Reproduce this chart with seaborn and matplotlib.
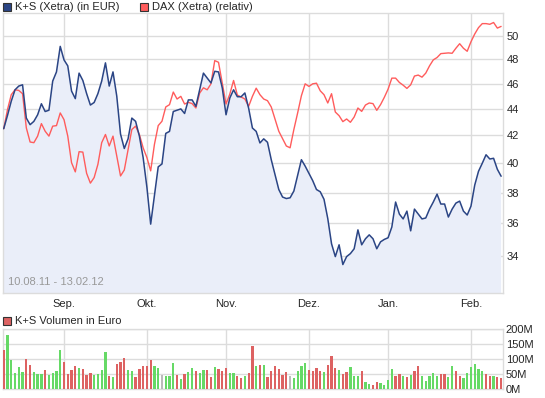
import numpy as np
import pandas as pd
import matplotlib
matplotlib.use("Agg")
import matplotlib.pyplot as plt
import seaborn as sns
from matplotlib.patches import Rectangle
from matplotlib.ticker import FixedLocator, NullLocator, FuncFormatter

# Xetra trading days 10.08.11 - 13.02.12 (closed on 26.12.)
days = pd.bdate_range("2011-08-10", "2012-02-13")
days = days[days != pd.Timestamp("2011-12-26")]

# K+S close in EUR
ks_price = [42.5, 43.5, 44.6, 45.5, 45.8, 45.9, 43.3, 42.8, 43.05, 43.55,
            44.4, 43.8, 43.9, 46.2, 46.95, 49.1, 47.95, 47.45, 45.4, 44.8,
            46.85, 46.25, 45.2, 44.3, 44.5, 45.2, 46.2, 47.7, 45.8, 46.95,
            45.0, 42.1, 41.05, 41.75, 43.3, 43.05, 41.95, 40.4, 38.35, 35.95,
            37.8, 39.75, 39.95, 42.15, 42.3, 43.8, 43.9, 44.0, 43.65, 44.7,
            44.7, 44.2, 45.5, 46.85, 46.45, 46.05, 47.0, 46.95, 45.65, 43.55,
            44.85, 45.5, 44.95, 44.95, 45.25, 44.05, 42.55, 42.3, 41.45, 41.75,
            41.5, 40.25, 39.2, 38.2, 37.7, 37.6, 37.65, 38.1, 39.15, 40.25,
            39.8, 39.3, 38.8, 38.2, 38.05, 37.55, 36.3, 34.73, 33.96, 34.67,
            33.49, 33.96, 34.14, 34.43, 35.59, 34.67, 35.04, 35.28, 35.04, 34.43,
            34.85, 35.0, 35.1, 35.77, 37.37, 36.59, 36.28, 36.78, 35.53, 36.91,
            36.59, 36.28, 36.34, 36.91, 37.37, 37.89, 37.24, 37.24, 36.4, 36.91,
            37.3, 37.43, 36.78, 36.53, 37.1, 38.5, 39.44, 40.0, 40.6, 40.3,
            40.35, 39.58, 39.1]

# DAX relative to K+S start value
dax_rel = [42.5, 43.94, 45.11, 45.5, 45.45, 45.19, 42.56, 41.52, 41.47, 41.95,
           42.88, 42.31, 41.95, 42.69, 42.73, 43.69, 43.18, 41.95, 40.04, 39.4,
           40.82, 40.79, 39.3, 38.63, 39.01, 39.93, 41.47, 42.07, 41.23, 41.95,
           40.51, 39.12, 39.53, 40.98, 42.44, 42.69, 42.07, 41.1, 40.4, 39.47,
           41.35, 42.73, 43.06, 44.15, 44.33, 45.32, 44.77, 44.98, 44.38, 44.51,
           44.41, 44.07, 45.24, 45.66, 45.5, 45.98, 47.89, 47.75, 46.03, 44.38,
           45.16, 46.25, 45.08, 44.93, 44.77, 44.2, 44.98, 45.63, 45.11, 44.77,
           44.64, 44.15, 43.23, 42.31, 41.76, 41.23, 41.1, 42.44, 43.69, 45.03,
           45.98, 45.77, 45.98, 46.03, 45.42, 45.11, 44.46, 45.19, 43.76, 43.48,
           43.03, 43.23, 42.98, 43.38, 44.07, 43.81, 44.3, 44.46, 44.41, 43.89,
           44.33, 44.9, 45.55, 46.44, 46.44, 46.09, 45.87, 45.61, 45.9, 46.61,
           46.69, 46.52, 46.85, 47.45, 47.95, 48.15, 48.48, 48.51, 48.54, 48.51,
           48.94, 49.33, 48.94, 48.68, 49.5, 50.18, 50.74, 51.1, 51.1, 51.04,
           51.2, 50.7, 50.85]

# volume in million EUR
volume_m = [131, 181, 98, 56, 74, 58, 101, 81, 58, 51,
            51, 64, 48, 56, 61, 131, 91, 51, 64, 78,
            71, 68, 48, 54, 48, 51, 64, 124, 44, 41,
            84, 91, 104, 64, 61, 41, 68, 78, 78, 98,
            78, 71, 48, 44, 44, 88, 48, 34, 51, 58,
            71, 61, 54, 64, 64, 41, 74, 68, 61, 71,
            54, 54, 44, 38, 44, 54, 144, 78, 81, 81,
            41, 61, 78, 68, 48, 58, 44, 38, 61, 78,
            88, 64, 61, 71, 61, 58, 81, 111, 71, 64,
            51, 58, 74, 44, 44, 61, 24, 18, 14, 24,
            21, 14, 31, 68, 44, 51, 44, 41, 48, 61,
            78, 44, 28, 44, 54, 44, 51, 51, 41, 78,
            61, 44, 38, 54, 74, 84, 68, 61, 51, 44,
            44, 41, 38]

# g = up day, r = down day, n = unchanged
direction = list("rgggggrrgg" "grggggrrrr" "grrrggggrg" "rrrggrrrrr"
                 "ggngggrgrg" "grggrrgrrr" "ggrrgrrgrg" "rrrrrrnggg"
                 "grrrrgrrrg" "rrgggrggrr" "ggggrrgrgr" "rgggggrrgg"
                 "rrggggggrr" "grr")

month_labels = ["Sep.", "Okt.", "Nov.", "Dez.", "Jan.", "Feb."]
price_ticks = [34, 36, 38, 40, 42, 44, 46, 48, 50]
vol_ticks = [0, 50, 100, 150, 200]

df = pd.DataFrame({"idx": np.arange(len(days)), "ks": ks_price, "dax": dax_rel,
                   "vol": volume_m, "dir": direction})
month_pos = [i for i in range(1, len(days)) if days[i].month != days[i - 1].month]

sns.set_style("white")
plt.rcParams["font.family"] = ["Liberation Sans", "DejaVu Sans"]
plt.rcParams["font.size"] = 8

W, H = 545, 398
fig = plt.figure(figsize=(W / 100, H / 100), dpi=100)
ax = fig.add_axes([3 / W, 1 - 293 / H, 500 / W, 280 / H])
axv = fig.add_axes([3 / W, 1 - 389.3 / H, 500 / W, 60 / H])

grid_c = "#dcdcdc"
blue = "#2b4585"
red = "#ff5c5c"
colors = {"g": "#66d966", "r": "#dd6262", "n": "#bbbbbb"}

# price panel
ax.fill_between(df["idx"], df["ks"], 1, color="#eaeef9", lw=0, zorder=1)
sns.lineplot(data=df, x="idx", y="dax", ax=ax, color=red, lw=1, zorder=3)
sns.lineplot(data=df, x="idx", y="ks", ax=ax, color=blue, lw=1.1, zorder=4)
ax.set_yscale("log")
ax.set_ylim(31.86, 52.06)
ax.set_xlim(-0.19, 132.5)
ax.yaxis.set_major_locator(FixedLocator(price_ticks))
ax.yaxis.set_minor_locator(NullLocator())
ax.yaxis.set_major_formatter(FuncFormatter(lambda v, p: f"{v:g}"))
ax.yaxis.tick_right()
ax.set_xticks(month_pos)
ax.set_xticklabels(month_labels)
ax.tick_params(axis="y", length=0, pad=2.5, labelsize=8)
ax.tick_params(axis="x", length=0, pad=4, labelsize=8)
ax.grid(True, color=grid_c, lw=1, zorder=0)
ax.set_axisbelow(True)
ax.set_xlabel("")
ax.set_ylabel("")
for s in ax.spines.values():
    s.set_color(grid_c)
    s.set_linewidth(1)
ax.text(0.01, 0.022, "10.08.11 - 13.02.12", transform=ax.transAxes,
        color="#999999", fontsize=8, va="bottom", zorder=5)

# volume panel
axv.bar(df["idx"], df["vol"], width=0.6, color=[colors[d] for d in df["dir"]],
        lw=0, antialiased=False, zorder=3)
axv.set_xlim(-0.19, 132.5)
axv.set_ylim(0, 200)
axv.yaxis.set_major_locator(FixedLocator(vol_ticks))
axv.yaxis.set_major_formatter(FuncFormatter(lambda v, p: f"{v:g}M"))
axv.yaxis.tick_right()
axv.set_xticks(month_pos)
axv.set_xticklabels([])
axv.tick_params(axis="y", length=0, pad=2, labelsize=8)
axv.tick_params(axis="x", length=0)
axv.grid(True, color=grid_c, lw=1, zorder=0)
axv.set_axisbelow(True)
for s in axv.spines.values():
    s.set_color(grid_c)
    s.set_linewidth(1)

# legends
def legend_box(x, y, color, label):
    fig.add_artist(Rectangle((x / W, 1 - (y + 8) / H), 8 / W, 8 / H, facecolor=color,
                             edgecolor="#333333", lw=0.8, transform=fig.transFigure))
    fig.text((x + 12) / W, 1 - (y + 4.5) / H, label, fontsize=8, va="center", ha="left")

legend_box(3, 3, blue, "K+S (Xetra) (in EUR)")
legend_box(140, 3, red, "DAX (Xetra) (relativ)")
legend_box(3, 317, "#dd6262", "K+S Volumen in Euro")

fig.savefig("out.png", dpi=100)
